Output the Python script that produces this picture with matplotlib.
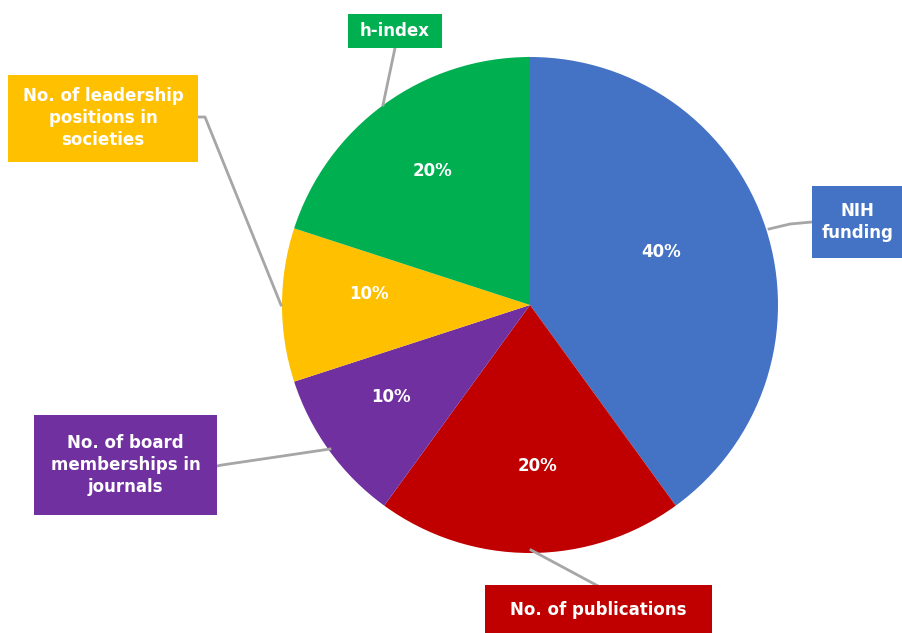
import matplotlib.pyplot as plt
from matplotlib.patches import Rectangle
import numpy as np

labels = ['NIH\nfunding', 'No. of publications', 'No. of board\nmemberships in\njournals',
          'No. of leadership\npositions in\nsocieties', 'h-index']
shares = [40, 20, 10, 10, 20]
colors = ['#4472C4', '#C00000', '#7030A0', '#FFC000', '#00B050']

W, H = 903, 633
cx, cy, R = 530, 305, 248   # pie centre / radius in pixels

fig = plt.figure(figsize=(W / 100, H / 100), dpi=100)
ax = fig.add_axes([(cx - R) / W, 1 - (cy + R) / H, 2 * R / W, 2 * R / H])

def d(px, py):
    # pixel -> data coordinates of the pie axes
    return ((px - cx) / R, (cy - py) / R)

wedges, texts = ax.pie(shares, colors=colors, startangle=90, counterclock=False,
                       radius=1, wedgeprops=dict(linewidth=0))
ax.set_xlim(-1, 1)
ax.set_ylim(-1, 1)
ax.set_aspect('equal')
ax.axis('off')

# percentage labels inside slices
pct_r = [0.57, 0.65, 0.67, 0.65, 0.67]
pct_shift = [4, 2.5, -2.5, -4, 0]   # degrees
for w, s, r, sh in zip(wedges, shares, pct_r, pct_shift):
    a = np.deg2rad((w.theta1 + w.theta2) / 2 + sh)
    ax.text(r * np.cos(a), r * np.sin(a), f'{s}%', color='white', fontsize=12,
            fontweight='bold', ha='center', va='center')

# label boxes (left, top, right, bottom in px) + leader lines
boxes = [(812, 186, 905, 258), (485, 585, 712, 640), (34, 415, 217, 515),
         (8, 75, 198, 162), (348, 14, 442, 48)]
text_y = [222, 610, 465, 118, 31]
lines = [
    [(812, 222), (790, 224), (769, 229)],
    [(598, 586), (531, 550)],
    [(217, 466), (222, 465), (330, 449)],
    [(198, 117), (205, 117), (281, 305)],
    [(395, 48), (383, 105)],
]
for lab, c, b, ty, ln in zip(labels, colors, boxes, text_y, lines):
    xs, ys = zip(*[d(*p) for p in ln])
    ax.plot(xs, ys, color='#A6A6A6', lw=2, clip_on=False, zorder=1)
    x0, y0 = d(b[0], b[3])
    x1, y1 = d(b[2], b[1])
    ax.add_patch(Rectangle((x0, y0), x1 - x0, y1 - y0, fc=c, ec='none',
                           clip_on=False, zorder=2))
    tx, tyd = d((b[0] + min(b[2], W)) / 2, ty)
    ax.text(tx, tyd, lab, color='white', fontsize=12, fontweight='bold', ha='center',
            va='center', linespacing=1.3, clip_on=False, zorder=3)

fig.savefig('out.png', dpi=100)
